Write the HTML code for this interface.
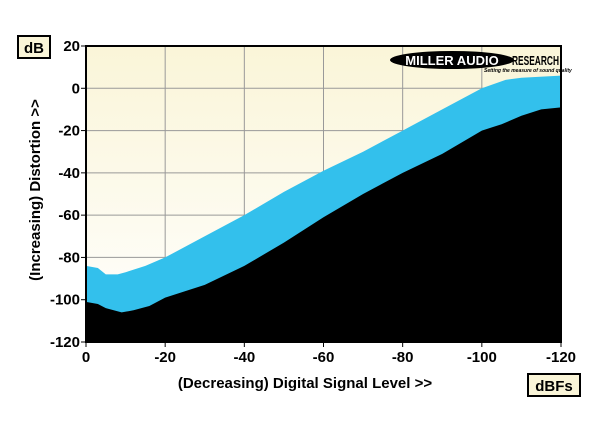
<!DOCTYPE html>
<html><head><meta charset="utf-8"><style>
body{margin:0;background:#fff;width:600px;height:425px;overflow:hidden;font-family:"Liberation Sans",sans-serif}
</style></head><body>
<svg width="600" height="425" viewBox="0 0 600 425">
<defs><linearGradient id="bg" x1="0" y1="0" x2="0" y2="1"><stop offset="0" stop-color="#faf5d8"/><stop offset="1" stop-color="#ffffff"/></linearGradient></defs>
<rect x="86" y="46" width="475" height="296" fill="url(#bg)"/>
<g id="grid"></g>
<path id="blue" fill="#33c0ec"/>
<path id="black" fill="#000"/>
<g id="axes"></g>
<rect x="86" y="46" width="475" height="296" fill="none" stroke="#000" stroke-width="2"/>
<g>
<ellipse cx="452" cy="60" rx="62" ry="9" fill="#000"/>
<text x="452" y="65" text-anchor="middle" font-size="13" font-weight="bold" fill="#fff" font-family="Liberation Sans Narrow, Liberation Sans, sans-serif">MILLER AUDIO</text>
<text x="512" y="65" font-size="13" font-weight="bold" fill="#000" font-family="Liberation Sans Narrow, Liberation Sans, sans-serif" textLength="47" lengthAdjust="spacingAndGlyphs">RESEARCH</text>
<text x="484" y="72" font-size="5" font-style="italic" font-weight="bold" fill="#000">Setting the measure of sound quality</text>
</g>
<rect x="18" y="36" width="32" height="22" fill="#faf5d8" stroke="#000" stroke-width="2"/>
<text x="34" y="53" text-anchor="middle" font-size="15" font-weight="bold">dB</text>
<text transform="translate(40,190) rotate(-90)" text-anchor="middle" font-size="15" font-weight="bold">(Increasing) Distortion &gt;&gt;</text>
<text x="305" y="388" text-anchor="middle" font-size="15" font-weight="bold">(Decreasing) Digital Signal Level &gt;&gt;</text>
<rect x="528" y="374" width="52" height="22" fill="#faf5d8" stroke="#000" stroke-width="2"/>
<text x="554" y="391" text-anchor="middle" font-size="15" font-weight="bold">dBFs</text>
</svg>
<script>
const upperX=[0,3,5,8,10,15,20,30,40,50,60,70,80,90,100,106,110,120];
const upperY=[-84,-85,-88,-88,-87,-84,-80,-70,-60,-49,-39,-30,-20,-10,0,4,5,6];
const lowerX=[0,3,5,9,12,16,20,25,30,40,50,60,70,80,90,100,105,110,115,120];
const lowerY=[-101,-102,-104,-106,-105,-103,-99,-96,-93,-84,-73,-61,-50,-40,-31,-20,-17,-13,-10,-9];
const xTicks=[0,-20,-40,-60,-80,-100,-120];
const yTicks=[20,0,-20,-40,-60,-80,-100,-120];
const X=v=>86+v/120*475, Y=v=>46+(20-v)/140*296;
const ns="http://www.w3.org/2000/svg";
let d="M"+X(upperX[0])+","+Y(upperY[0]);
upperX.forEach((x,i)=>d+=" L"+X(x)+","+Y(upperY[i]));
d+=" L"+X(120)+","+Y(-120)+" L"+X(0)+","+Y(-120)+"Z";
document.getElementById('blue').setAttribute('d',d);
d="M"+X(lowerX[0])+","+Y(lowerY[0]);
lowerX.forEach((x,i)=>d+=" L"+X(x)+","+Y(lowerY[i]));
d+=" L"+X(120)+","+Y(-120)+" L"+X(0)+","+Y(-120)+"Z";
document.getElementById('black').setAttribute('d',d);
const g=document.getElementById('grid'),a=document.getElementById('axes');
function mk(p,tag,at,txt){const e=document.createElementNS(ns,tag);for(const k in at)e.setAttribute(k,at[k]);if(txt!=null)e.textContent=txt;p.appendChild(e);return e;}
xTicks.forEach(t=>{const x=X(-t);
const l=mk(g,'line',{x1:x,x2:x,y1:46,y2:342,stroke:'#999','stroke-width':1});


const s=mk(a,'line',{x1:x,x2:x,y1:342,y2:347,stroke:'#000'});


const tx=mk(a,'text',{x:x,y:362,'text-anchor':'middle','font-size':15,'font-weight':'bold'},String(t));

});
yTicks.forEach(t=>{const y=Y(t);
const l=mk(g,'line',{x1:86,x2:561,y1:y,y2:y,stroke:'#999','stroke-width':1});


const s=mk(a,'line',{x1:81,x2:86,y1:y,y2:y,stroke:'#000'});


const tx=mk(a,'text',{x:80,y:y+5,'text-anchor':'end','font-size':15,'font-weight':'bold'},String(t));

});
</script>
</body></html>
